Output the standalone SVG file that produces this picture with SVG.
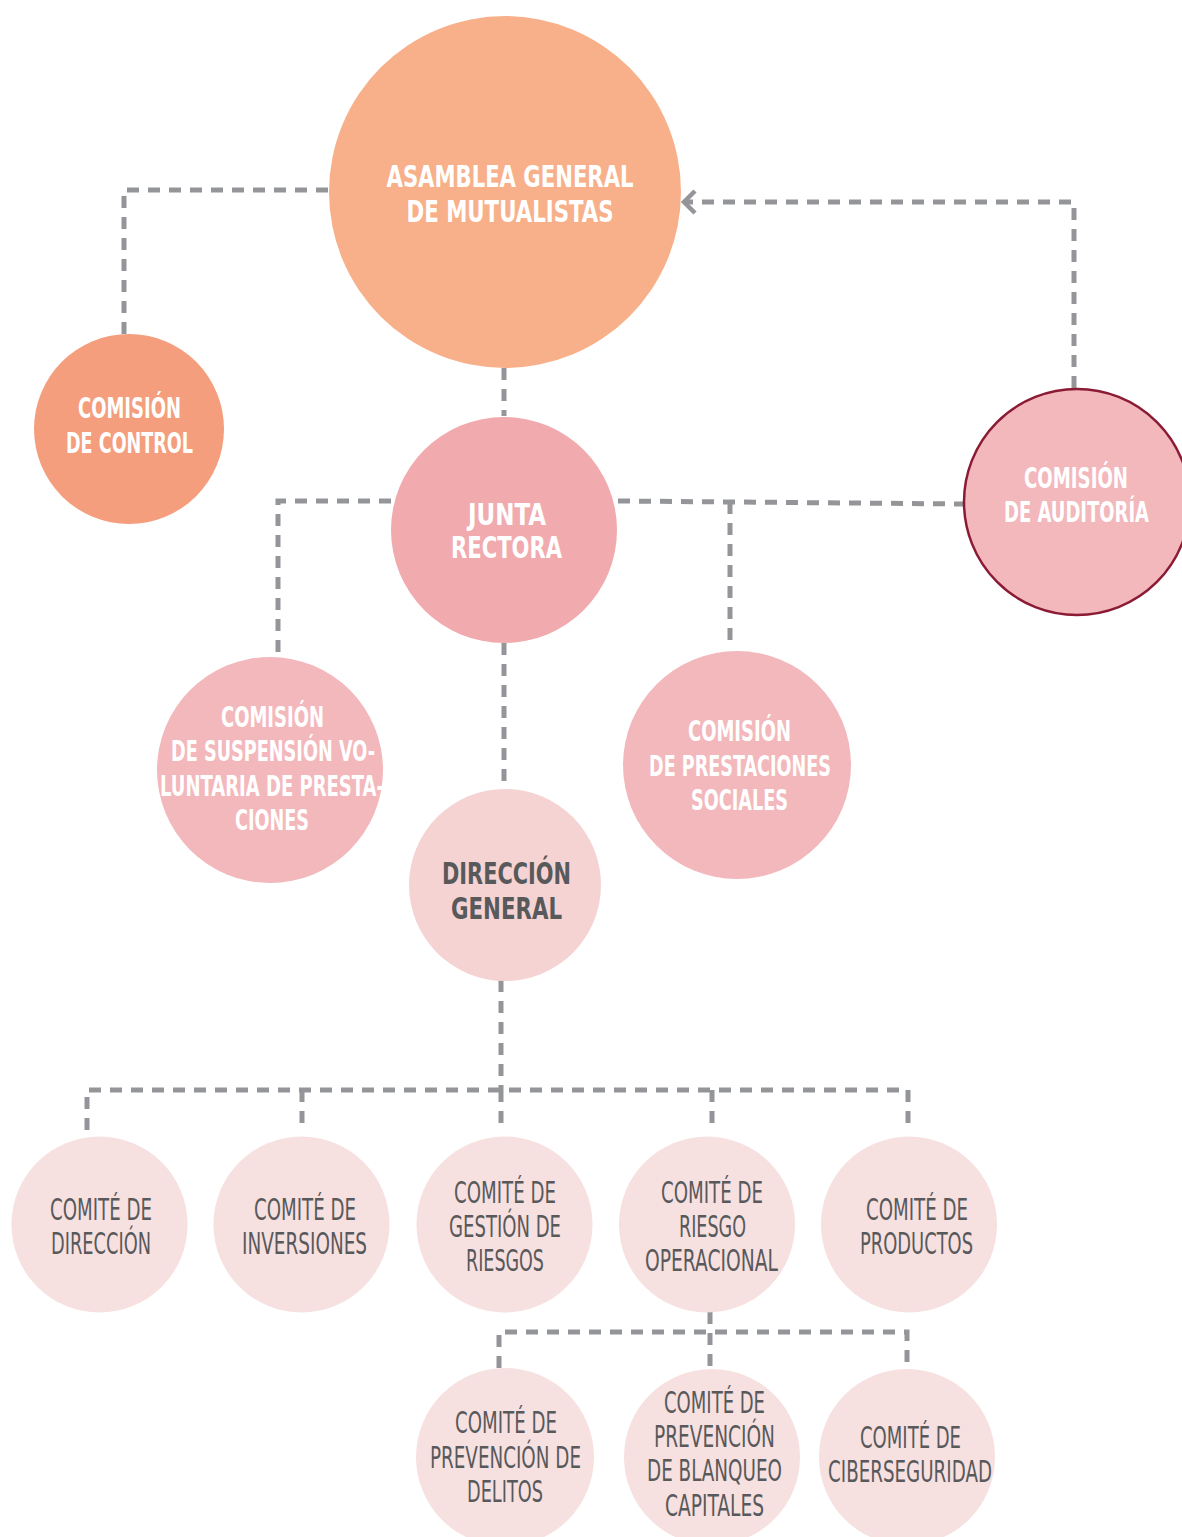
<svg xmlns="http://www.w3.org/2000/svg" width="1182" height="1537" viewBox="0 0 1182 1537">
<style>
.c{fill:none;stroke:#939598;stroke-width:5;stroke-dasharray:12 9}
text{font-family:"Liberation Sans Narrow","DejaVu Sans Condensed","Liberation Sans",sans-serif;text-anchor:middle}
.wb{fill:#fff;font-weight:bold;font-size:30px}
.wm{fill:#fff;font-weight:bold;font-size:28px}
.gb{fill:#58595b;font-weight:bold;font-size:30px}
.g{fill:#58595b;font-size:30px}
</style>
<defs>
<marker id="arr" markerWidth="20" markerHeight="26" refX="15" refY="13" orient="auto" markerUnits="userSpaceOnUse">
<path d="M4 2 L15 13 L4 24" fill="none" stroke="#939598" stroke-width="4.5"/>
</marker>
</defs>
<g id="connectors">
<path class="c" d="M328 190 H124 V334"/>
<path class="c" d="M1074 388 V202 H684" marker-end="url(#arr)"/>
<path class="c" d="M504 368 V416"/>
<path class="c" d="M391 501 H278 V657"/>
<path class="c" d="M618 501 L965 504"/>
<path class="c" d="M730 502 V640"/>
<path class="c" d="M504 643 V789"/>
<path class="c" d="M501 980 V1090"/>
<path class="c" d="M87 1130 V1090 H908 V1130"/>
<path class="c" d="M302 1090 V1130"/>
<path class="c" d="M501 1090 V1130"/>
<path class="c" d="M712 1090 V1130"/>
<path class="c" d="M710 1312 V1368"/>
<path class="c" d="M499 1368 V1332 H907 V1368"/>
</g>
<g id="asamblea">
<circle cx="505" cy="192" r="176" fill="#f8b08a"/>
<text class="wb" x="510" y="187" textLength="247" lengthAdjust="spacingAndGlyphs">ASAMBLEA GENERAL</text>
<text class="wb" x="510" y="222" textLength="207" lengthAdjust="spacingAndGlyphs">DE MUTUALISTAS</text>
</g>
<g id="control">
<circle cx="129" cy="429" r="95" fill="#f49e7d"/>
<text class="wm" x="129.5" y="418" textLength="103" lengthAdjust="spacingAndGlyphs">COMISIÓN</text>
<text class="wm" x="129.5" y="453" textLength="127" lengthAdjust="spacingAndGlyphs">DE CONTROL</text>
</g>
<g id="junta">
<circle cx="504" cy="530" r="113" fill="#f1aaae"/>
<text class="wb" x="507" y="525" textLength="78" lengthAdjust="spacingAndGlyphs">JUNTA</text>
<text class="wb" x="506.5" y="558" textLength="111" lengthAdjust="spacingAndGlyphs">RECTORA</text>
</g>
<g id="auditoria">
<circle cx="1077" cy="502" r="113" fill="#f3b8bc" stroke="#8b1a35" stroke-width="2.5"/>
<text class="wm" x="1076" y="488" textLength="104" lengthAdjust="spacingAndGlyphs">COMISIÓN</text>
<text class="wm" x="1076.5" y="522" textLength="145" lengthAdjust="spacingAndGlyphs">DE AUDITORÍA</text>
</g>
<g id="suspension">
<circle cx="270" cy="770" r="113" fill="#f3b8bc"/>
<text class="wm" x="272.5" y="727" textLength="103" lengthAdjust="spacingAndGlyphs">COMISIÓN</text>
<text class="wm" x="273" y="761" textLength="204" lengthAdjust="spacingAndGlyphs">DE SUSPENSIÓN VO-</text>
<text class="wm" x="272" y="796" textLength="224" lengthAdjust="spacingAndGlyphs">LUNTARIA DE PRESTA-</text>
<text class="wm" x="272" y="830" textLength="74" lengthAdjust="spacingAndGlyphs">CIONES</text>
</g>
<g id="prestaciones">
<circle cx="737" cy="765" r="114" fill="#f3b8bc"/>
<text class="wm" x="739.5" y="741" textLength="103" lengthAdjust="spacingAndGlyphs">COMISIÓN</text>
<text class="wm" x="740" y="776" textLength="182" lengthAdjust="spacingAndGlyphs">DE PRESTACIONES</text>
<text class="wm" x="739.5" y="810" textLength="97" lengthAdjust="spacingAndGlyphs">SOCIALES</text>
</g>
<g id="direccion">
<circle cx="505" cy="885" r="96" fill="#f6d3d3"/>
<text class="gb" x="506.5" y="884" textLength="129" lengthAdjust="spacingAndGlyphs">DIRECCIÓN</text>
<text class="gb" x="506.5" y="919" textLength="111" lengthAdjust="spacingAndGlyphs">GENERAL</text>
</g>
<g id="comite-direccion">
<circle cx="99.5" cy="1224.5" r="88" fill="#f7e0e0"/>
<text class="g" x="101" y="1220" textLength="102" lengthAdjust="spacingAndGlyphs">COMITÉ DE</text>
<text class="g" x="101" y="1254" textLength="100" lengthAdjust="spacingAndGlyphs">DIRECCIÓN</text>
</g>
<g id="comite-inversiones">
<circle cx="301.5" cy="1224.5" r="88" fill="#f7e0e0"/>
<text class="g" x="305" y="1220" textLength="102" lengthAdjust="spacingAndGlyphs">COMITÉ DE</text>
<text class="g" x="304.5" y="1254" textLength="125" lengthAdjust="spacingAndGlyphs">INVERSIONES</text>
</g>
<g id="comite-gestion">
<circle cx="504.5" cy="1224.5" r="88" fill="#f7e0e0"/>
<text class="g" x="505" y="1203" textLength="102" lengthAdjust="spacingAndGlyphs">COMITÉ DE</text>
<text class="g" x="505" y="1237" textLength="112" lengthAdjust="spacingAndGlyphs">GESTIÓN DE</text>
<text class="g" x="505" y="1271" textLength="78" lengthAdjust="spacingAndGlyphs">RIESGOS</text>
</g>
<g id="comite-riesgo">
<circle cx="707" cy="1224.5" r="88" fill="#f7e0e0"/>
<text class="g" x="712" y="1203" textLength="102" lengthAdjust="spacingAndGlyphs">COMITÉ DE</text>
<text class="g" x="712.5" y="1237" textLength="67" lengthAdjust="spacingAndGlyphs">RIESGO</text>
<text class="g" x="711.5" y="1271" textLength="133" lengthAdjust="spacingAndGlyphs">OPERACIONAL</text>
</g>
<g id="comite-productos">
<circle cx="909" cy="1224.5" r="88" fill="#f7e0e0"/>
<text class="g" x="917" y="1220" textLength="102" lengthAdjust="spacingAndGlyphs">COMITÉ DE</text>
<text class="g" x="916.5" y="1254" textLength="113" lengthAdjust="spacingAndGlyphs">PRODUCTOS</text>
</g>
<g id="comite-delitos">
<circle cx="505" cy="1457" r="89" fill="#f7e0e0"/>
<text class="g" x="506" y="1433" textLength="102" lengthAdjust="spacingAndGlyphs">COMITÉ DE</text>
<text class="g" x="505.5" y="1468" textLength="151" lengthAdjust="spacingAndGlyphs">PREVENCIÓN DE</text>
<text class="g" x="505" y="1502" textLength="76" lengthAdjust="spacingAndGlyphs">DELITOS</text>
</g>
<g id="comite-blanqueo">
<circle cx="712" cy="1457" r="88" fill="#f7e0e0"/>
<text class="g" x="714.5" y="1413" textLength="101" lengthAdjust="spacingAndGlyphs">COMITÉ DE</text>
<text class="g" x="714.5" y="1447" textLength="121" lengthAdjust="spacingAndGlyphs">PREVENCIÓN</text>
<text class="g" x="714.5" y="1481" textLength="135" lengthAdjust="spacingAndGlyphs">DE BLANQUEO</text>
<text class="g" x="714.5" y="1516" textLength="99" lengthAdjust="spacingAndGlyphs">CAPITALES</text>
</g>
<g id="comite-ciberseguridad">
<circle cx="907" cy="1457" r="88" fill="#f7e0e0"/>
<text class="g" x="910.5" y="1448" textLength="101" lengthAdjust="spacingAndGlyphs">COMITÉ DE</text>
<text class="g" x="910" y="1482" textLength="164" lengthAdjust="spacingAndGlyphs">CIBERSEGURIDAD</text>
</g>
</svg>
